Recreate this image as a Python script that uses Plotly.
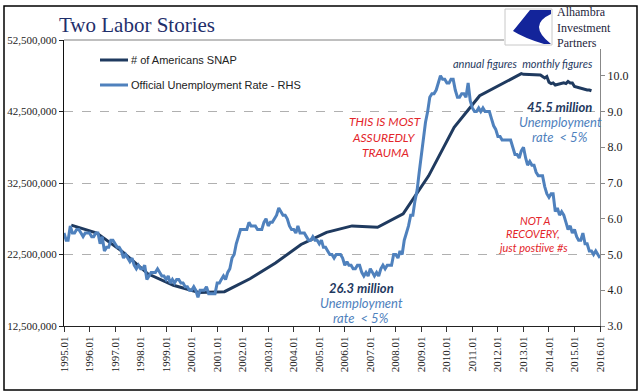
import plotly.graph_objects as go
import pandas as pd

# ---------------- data ----------------
# Official unemployment rate, monthly Jan 1995 .. Jan 2016 (%)
unemp_start = "1995-01-01"
unemp = [
    5.6, 5.4, 5.4, 5.8, 5.6, 5.6, 5.7, 5.7, 5.6, 5.5, 5.6, 5.6,   # 1995
    5.6, 5.5, 5.5, 5.6, 5.6, 5.3, 5.5, 5.1, 5.2, 5.2, 5.4, 5.4,   # 1996
    5.3, 5.2, 5.2, 5.1, 4.9, 5.0, 4.9, 4.8, 4.9, 4.7, 4.6, 4.7,   # 1997
    4.6, 4.6, 4.7, 4.3, 4.4, 4.5, 4.5, 4.5, 4.6, 4.5, 4.4, 4.4,   # 1998
    4.3, 4.4, 4.2, 4.3, 4.2, 4.3, 4.3, 4.2, 4.2, 4.1, 4.1, 4.0,   # 1999
    4.0, 4.1, 4.0, 3.8, 4.0, 4.0, 4.0, 4.1, 3.9, 3.9, 3.9, 3.9,   # 2000
    4.2, 4.2, 4.3, 4.4, 4.3, 4.5, 4.6, 4.9, 5.0, 5.3, 5.5, 5.7,   # 2001
    5.7, 5.7, 5.7, 5.9, 5.8, 5.8, 5.8, 5.7, 5.7, 5.7, 5.9, 6.0,   # 2002
    5.8, 5.9, 5.9, 6.0, 6.1, 6.3, 6.2, 6.1, 6.1, 6.0, 5.8, 5.7,   # 2003
    5.7, 5.6, 5.8, 5.6, 5.6, 5.6, 5.5, 5.4, 5.4, 5.5, 5.4, 5.4,   # 2004
    5.3, 5.4, 5.2, 5.2, 5.1, 5.0, 5.0, 4.9, 5.0, 5.0, 5.0, 4.9,   # 2005
    4.7, 4.8, 4.7, 4.7, 4.6, 4.6, 4.7, 4.7, 4.5, 4.4, 4.5, 4.4,   # 2006
    4.6, 4.5, 4.4, 4.5, 4.4, 4.6, 4.7, 4.6, 4.7, 4.7, 4.7, 5.0,   # 2007
    5.0, 4.9, 5.1, 5.0, 5.4, 5.6, 5.8, 6.1, 6.1, 6.5, 6.8, 7.3,   # 2008
    7.8, 8.3, 8.7, 9.0, 9.4, 9.5, 9.5, 9.6, 9.8, 10.0, 9.9, 9.9,  # 2009
    9.8, 9.8, 9.9, 9.9, 9.6, 9.4, 9.4, 9.5, 9.5, 9.4, 9.8, 9.3,   # 2010
    9.1, 9.0, 9.0, 9.1, 9.0, 9.1, 9.0, 9.0, 9.0, 8.8, 8.6, 8.5,   # 2011
    8.3, 8.3, 8.2, 8.2, 8.2, 8.2, 8.2, 8.0, 7.8, 7.8, 7.7, 7.9,   # 2012
    8.0, 7.7, 7.5, 7.6, 7.5, 7.5, 7.3, 7.2, 7.2, 7.2, 6.9, 6.7,   # 2013
    6.6, 6.7, 6.7, 6.2, 6.3, 6.1, 6.2, 6.1, 5.9, 5.7, 5.8, 5.6,   # 2014
    5.7, 5.5, 5.4, 5.4, 5.6, 5.3, 5.3, 5.1, 5.1, 5.0, 5.1, 5.0,   # 2015
    4.9,                                                          # 2016.01
]
unemp_dates = pd.date_range(unemp_start, periods=len(unemp), freq="MS")

# SNAP participants: annual figures 1995..2012, then monthly Oct 2012 .. Sep 2015
snap_annual_dates = [f"{y}-04-15" for y in range(1995, 2013)]
snap_annual = [26.6e6, 25.5e6, 22.9e6, 19.8e6, 18.2e6, 17.2e6, 17.3e6, 19.1e6,
               21.3e6, 23.9e6, 25.6e6, 26.5e6, 26.3e6, 28.2e6, 33.5e6, 40.3e6,
               44.7e6, 46.6e6]
snap_monthly_start = "2012-10-01"
snap_monthly = [47.5e6, 47.7e6, 47.8e6, 47.7e6, 47.7e6, 47.7e6, 47.6e6, 47.6e6,
                47.6e6, 47.7e6, 47.6e6, 47.6e6, 47.4e6, 47.2e6, 47.4e6, 46.6e6,
                46.4e6, 46.5e6, 46.2e6, 46.3e6, 46.3e6, 46.5e6, 46.5e6, 46.4e6,
                46.7e6, 46.5e6, 46.5e6, 46.0e6, 45.9e6, 45.9e6, 45.7e6, 45.6e6,
                45.5e6, 45.5e6, 45.5e6, 45.4e6]
snap_monthly_dates = pd.date_range(snap_monthly_start, periods=len(snap_monthly), freq="MS")
snap_dates = list(pd.to_datetime(snap_annual_dates)) + list(snap_monthly_dates)
snap_values = snap_annual + snap_monthly

left_ticks = [12.5e6, 22.5e6, 32.5e6, 42.5e6, 52.5e6]
right_ticks = [3, 4, 5, 6, 7, 8, 9, 10]
x_tick_years = list(range(1995, 2017))

series_names = ["# of Americans SNAP", "Official Unemployment Rate - RHS"]

# ---------------- styling ----------------
W, H = 641, 392
L, R, T, B = 64, 600, 40, 326
NAVY = "#1F3A5F"
STEEL = "#4F81BD"
RED = "#E3262B"
ANN_FONT = "Lato"
SERIF = "Liberation Serif"


def px(x):
    return (x - L) / (R - L)


def py(y):
    return (B - y) / (B - T)


fig = go.Figure()
fig.add_trace(go.Scatter(x=snap_dates, y=snap_values, mode="lines", name=series_names[0],
                         line=dict(color=NAVY, width=3), yaxis="y"))
fig.add_trace(go.Scatter(x=unemp_dates, y=unemp, mode="lines", name=series_names[1],
                         line=dict(color=STEEL, width=3), yaxis="y2"))

fig.update_layout(
    width=W, height=H,
    margin=dict(l=L, r=W - R, t=T, b=H - B, pad=0, autoexpand=False),
    paper_bgcolor="white", plot_bgcolor="white",
    showlegend=False,
    xaxis=dict(
        type="date", range=["1995-01-01", "2016-01-01"], automargin=False,
        tickvals=[f"{y}-01-01" for y in x_tick_years], tickformat="%Y.%m",
        tickangle=-90, ticks="outside", ticklen=5, tickcolor="#333",
        showline=True, linecolor="#222", linewidth=1, showgrid=False,
        tickfont=dict(family=SERIF, size=11, color="#222"),
    ),
    yaxis=dict(
        range=[12.5e6, 52.5e6], tickvals=left_ticks, tickformat=",d", automargin=False,
        ticks="outside", ticklen=4, tickcolor="#222",
        showline=True, linecolor="#111", linewidth=1,
        showgrid=True, gridcolor="#B0B0B0", griddash="dash", gridwidth=1,
        zeroline=False,
        tickfont=dict(family=SERIF, size=11, color="#222"),
    ),
    yaxis2=dict(
        range=[3, 11], tickvals=right_ticks, tickformat=".1f", automargin=False,
        overlaying="y", side="right",
        ticks="outside", ticklen=4, tickcolor="#888",
        showline=True, linecolor="#888", linewidth=1, showgrid=False, zeroline=False,
        tickfont=dict(family=SERIF, size=12, color="#222"),
    ),
)

shapes = []
# top plot border (solid gray)
shapes.append(dict(type="line", xref="paper", yref="paper", x0=0, x1=1, y0=1, y1=1,
                   line=dict(color="#808080", width=1), layer="above"))
# outer chart border
shapes.append(dict(type="rect", xref="paper", yref="paper",
                   x0=px(4), x1=px(637), y0=py(6), y1=py(390),
                   line=dict(color="#000", width=1.5), layer="above"))
# logo white box
shapes.append(dict(type="rect", xref="paper", yref="paper",
                   x0=px(504), x1=px(636), y0=py(7), y1=py(49),
                   fillcolor="white", line=dict(width=0), layer="above"))
# logo icon frame
shapes.append(dict(type="rect", xref="paper", yref="paper",
                   x0=px(505), x1=px(552), y0=py(9), y1=py(45),
                   fillcolor="white", line=dict(color="#C8C8C8", width=1), layer="above"))


def path(points):
    out = []
    for cmd, coords in points:
        pts = " ".join(f"{px(a):.4f},{py(b):.4f}" for a, b in coords)
        out.append(f"{cmd}{pts}")
    return " ".join(out) + " Z"


icon = path([("M", [(530, 10)]), ("L", [(551, 10)]), ("L", [(551, 14)]),
             ("Q", [(527, 25), (551, 44)]), ("L", [(544, 44)]),
             ("Q", [(524, 38), (513, 31)]), ("Q", [(522, 20), (530, 10)])])
shapes.append(dict(type="path", xref="paper", yref="paper", path=icon,
                   fillcolor="#13249A", line=dict(width=0), layer="above"))

# legend samples
shapes.append(dict(type="line", xref="paper", yref="paper", x0=px(100), x1=px(128),
                   y0=py(60), y1=py(60), line=dict(color=NAVY, width=3)))
shapes.append(dict(type="line", xref="paper", yref="paper", x0=px(100), x1=px(128),
                   y0=py(85), y1=py(85), line=dict(color=STEEL, width=3)))
fig.update_layout(shapes=shapes)

ann = []


def text(x, y, s, size, color, family=ANN_FONT, xanchor="center"):
    ann.append(dict(xref="paper", yref="paper", x=px(x), y=py(y), text=s, showarrow=False,
                    xanchor=xanchor, yanchor="middle", align="left" if xanchor == "left" else "center",
                    font=dict(family=family, size=size, color=color)))


# title
text(57, 25, "Two Labor Stories", 21, "#1F2F6B", family=SERIF, xanchor="left")
# logo words
text(555, 27, "Alhambra<br>Investment<br>Partners", 12, "#1E1E3C", family=SERIF, xanchor="left")
# legend texts
text(129, 60, series_names[0], 11, "#222", family="Liberation Sans", xanchor="left")
text(129, 85, series_names[1], 11, "#222", family="Liberation Sans", xanchor="left")

text(523, 63, "<i>annual figures  monthly figures</i>", 11, NAVY)
text(559, 107, "<b><i>45.5 million</i></b>", 13, NAVY)
text(560, 122, "<i>Unemployment</i>", 13, STEEL)
text(560, 137, "<i>rate  &lt; 5%</i>", 13, STEEL)

text(385, 122, "<i>THIS IS MOST</i>", 12, RED)
text(384, 137, "<i>ASSUREDLY</i>", 12, RED)
text(385, 152, "<i>TRAUMA</i>", 12, RED)

text(535, 220, "<i>NOT A</i>", 11, RED)
text(533, 233, "<i>RECOVERY,</i>", 11, RED)
text(533, 247, "<i>just postiive #s</i>", 11, RED)

text(361, 288, "<b><i>26.3 million</i></b>", 13, NAVY)
text(361, 303, "<i>Unemployment</i>", 13, STEEL)
text(361, 318, "<i>rate  &lt; 5%</i>", 13, STEEL)

fig.update_layout(annotations=ann)

fig.write_html("out.html", config={"displayModeBar": False},
               post_script="document.body.style.margin='0';")
